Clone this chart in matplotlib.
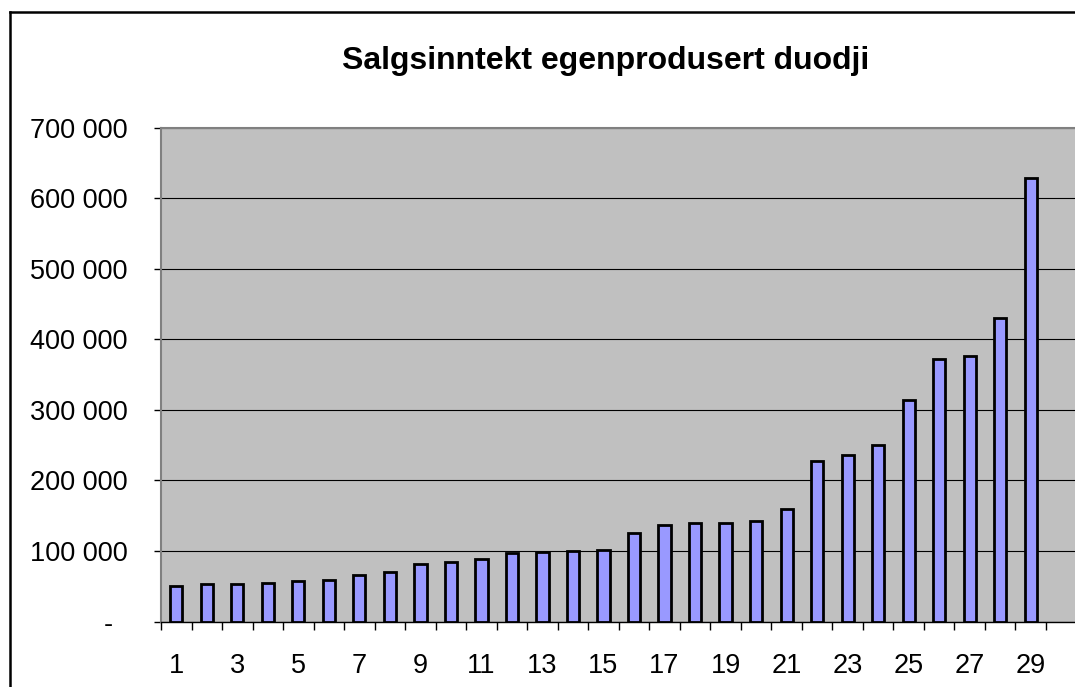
import matplotlib.pyplot as plt
from matplotlib.lines import Line2D
from matplotlib.ticker import FuncFormatter, FixedLocator

# Data
positions = list(range(1, 30))
values = [50000, 53000, 52600, 55000, 57000, 58300, 66300, 70100, 81500, 85000,
          88000, 97000, 98000, 100000, 102000, 126000, 137000, 139000, 139000, 143000,
          159000, 228000, 236500, 250000, 314000, 372000, 376500, 429500, 629000]
y_ticks = [0, 100000, 200000, 300000, 400000, 500000, 600000, 700000]
x_labels = list(range(1, 30, 2))

plt.rcParams['font.family'] = ['Liberation Sans', 'DejaVu Sans']

W, H = 1075, 687
fig = plt.figure(figsize=(W / 100, H / 100), dpi=100)

# Plot area in pixels (extends past the right edge like the cropped original)
left, right = 161, 1080
top, bottom = 127.5, 621.5
ax = fig.add_axes([left / W, 1 - bottom / H, (right - left) / W, (bottom - top) / H])
ax.set_facecolor('#C0C0C0')

ax.bar(positions, values, width=0.4, color='#9999FF', edgecolor='black',
       linewidth=2.0, zorder=3)

cat_w = (1046 - left) / 29
ax.set_xlim(0.5, 0.5 + (right - left) / cat_w)
ax.set_ylim(0, 700000)

# y axis
ax.yaxis.set_major_locator(FixedLocator(y_ticks))
ax.yaxis.set_major_formatter(FuncFormatter(
    lambda v, p: '-  ' if v == 0 else f'{int(v):,}'.replace(',', ' ')))
ax.tick_params(axis='y', length=5, width=1, pad=19, labelsize=19.5, color='black')
ax.grid(axis='y', color='black', linewidth=0.8, zorder=1)

# x axis: ticks between categories, labels on odd categories
ax.set_xticks([i + 0.5 for i in range(0, 30)])
ax.set_xticklabels([])
ax.set_xticks(x_labels, minor=True)
ax.set_xticklabels([str(x) for x in x_labels], minor=True)
ax.tick_params(axis='x', which='major', length=6, width=1, color='black')
ax.tick_params(axis='x', which='minor', length=0, pad=23, labelsize=19.5)

for s in ['top', 'left']:
    ax.spines[s].set_color('#808080')
    ax.spines[s].set_linewidth(1.5)
ax.spines['right'].set_visible(False)
ax.spines['bottom'].set_color('black')
ax.spines['bottom'].set_linewidth(1)

# Title
fig.text(605.5 / W, 1 - 61 / H, 'Salgsinntekt egenprodusert duodji',
         ha='center', va='center', fontsize=23, fontweight='bold')

# Chart border (left and top visible, rest cropped)
fig.add_artist(Line2D([9.5 / W, 9.5 / W], [0, 1 - 12 / H], transform=fig.transFigure,
                      color='black', linewidth=1.8))
fig.add_artist(Line2D([9.5 / W, 1], [1 - 12 / H, 1 - 12 / H], transform=fig.transFigure,
                      color='black', linewidth=1.8))

fig.savefig('out.png', dpi=100)
